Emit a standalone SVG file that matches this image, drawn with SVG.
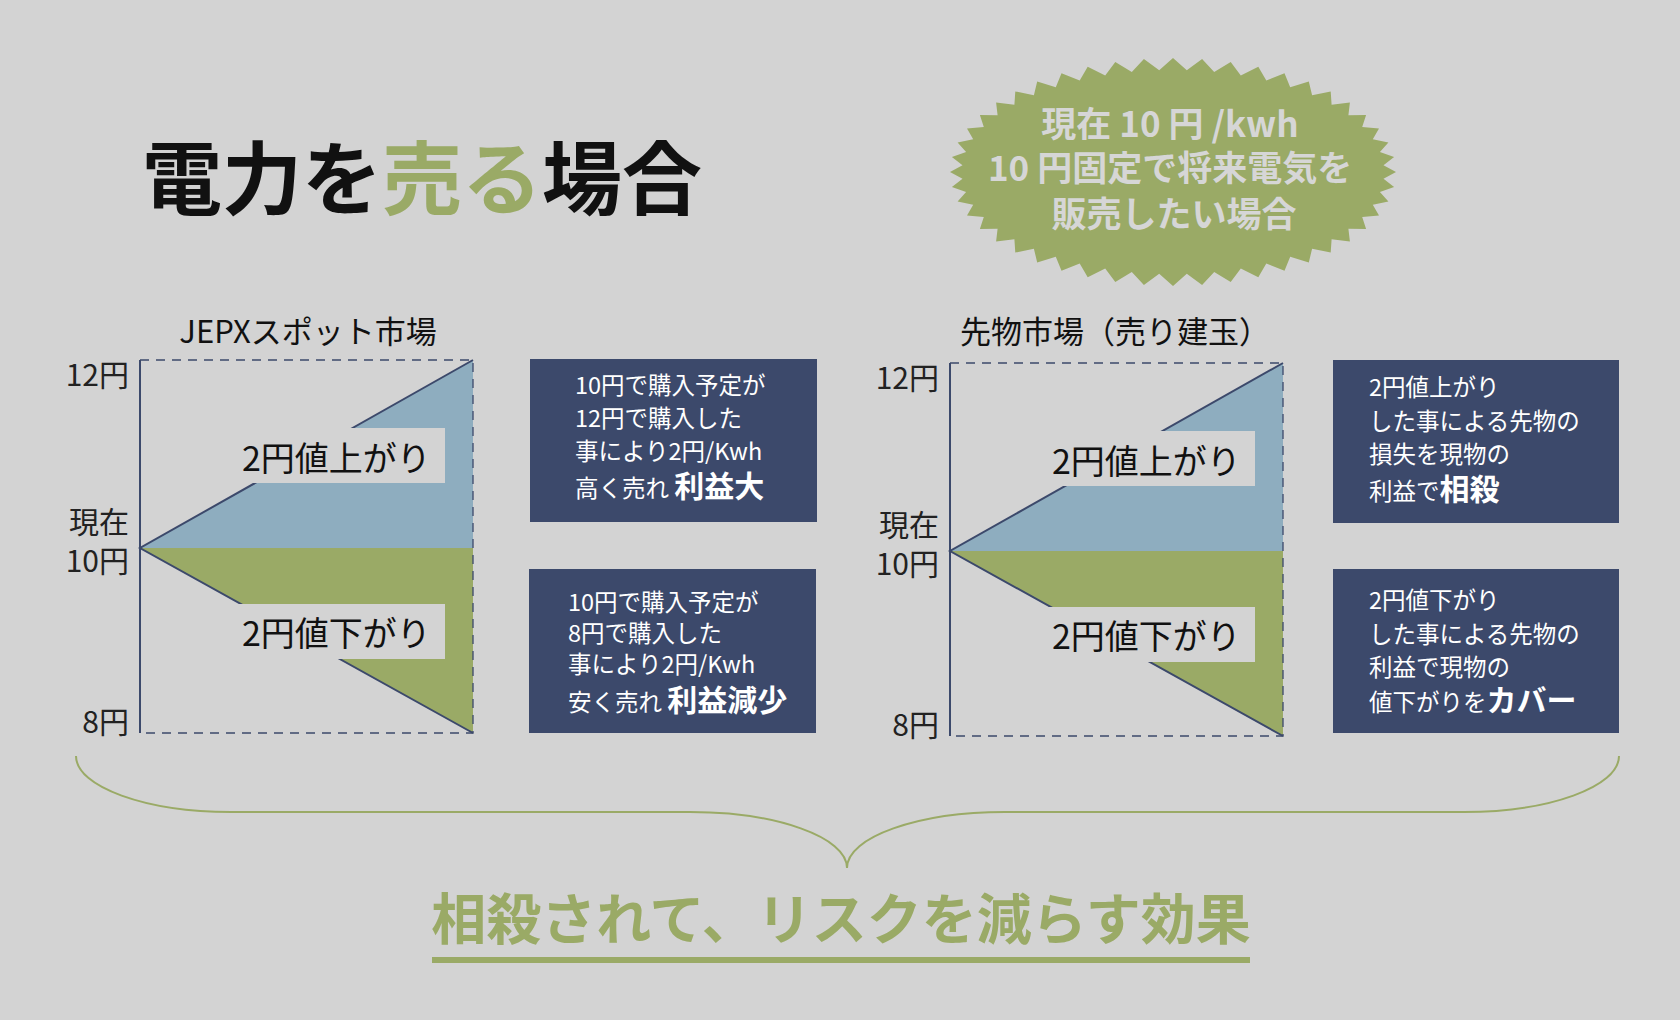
<svg xmlns="http://www.w3.org/2000/svg" width="1680" height="1020" viewBox="0 0 1680 1020">
<style>
.t{font-family:"Noto Sans CJK JP","Noto Sans",sans-serif}
.ax{font-size:30px;fill:#222;text-anchor:end}
.lbl{font-size:34px;fill:#111}
.ttl{font-size:31px;fill:#111;text-anchor:middle}
.bx{fill:#3c496b}
.bt{font-size:23.5px;fill:#fff}
.bb{font-size:30px;font-weight:700}
.dash{stroke:#3c496b;stroke-width:1.3;stroke-dasharray:9 7;fill:none}
.ln{stroke:#3c496b;stroke-width:2;fill:none}
.up{fill:#8eadbf}
.dn{fill:#9aaa66}
.mask{fill:#d3d3d3}
</style>
<rect width="1680" height="1020" fill="#d3d3d3"/>

<g id="title">
<text class="t" x="142" y="208" font-size="80" font-weight="700" fill="#111">電力を<tspan fill="#9aaa66">売る</tspan>場合</text>
</g>

<g id="starburst">
<path transform="translate(1173,172)" fill="#9aaa66" d="M223,0 L210.5,6.7 221.1,14.9 206.9,19.9 215.4,29.5 199.8,32.8 206,43.6 189.2,45.1 193.1,57 175.4,56.7 176.9,69.4 158.6,67.3 157.7,80.6 139.1,76.7 135.8,90.4 117.2,84.8 111.5,98.7 93.3,91.5 85.3,105.3 67.8,96.6 57.7,110.1 41.2,100 29.1,113 13.8,101.8 0,114 -13.8,101.8 -29.1,113 -41.2,100 -57.7,110.1 -67.8,96.6 -85.3,105.3 -93.3,91.5 -111.5,98.7 -117.2,84.8 -135.8,90.4 -139.1,76.7 -157.7,80.6 -158.6,67.3 -176.9,69.4 -175.4,56.7 -193.1,57 -189.2,45.1 -206,43.6 -199.8,32.8 -215.4,29.5 -206.9,19.9 -221.1,14.9 -210.5,6.7 -223,0 -210.5,-6.7 -221.1,-14.9 -206.9,-19.9 -215.4,-29.5 -199.8,-32.8 -206,-43.6 -189.2,-45.1 -193.1,-57 -175.4,-56.7 -176.9,-69.4 -158.6,-67.3 -157.7,-80.6 -139.1,-76.7 -135.8,-90.4 -117.2,-84.8 -111.5,-98.7 -93.3,-91.5 -85.3,-105.3 -67.8,-96.6 -57.7,-110.1 -41.2,-100 -29.1,-113 -13.8,-101.8 0,-114 13.8,-101.8 29.1,-113 41.2,-100 57.7,-110.1 67.8,-96.6 85.3,-105.3 93.3,-91.5 111.5,-98.7 117.2,-84.8 135.8,-90.4 139.1,-76.7 157.7,-80.6 158.6,-67.3 176.9,-69.4 175.4,-56.7 193.1,-57 189.2,-45.1 206,-43.6 199.8,-32.8 215.4,-29.5 206.9,-19.9 221.1,-14.9 210.5,-6.7 Z"/>
<text class="t" font-size="35" font-weight="700" fill="#d6d6d6" text-anchor="middle">
<tspan x="1174" y="137">現在 10 円 /kwh</tspan>
<tspan x="1174" y="181">10 円固定で将来電気を</tspan>
<tspan x="1174" y="227">販売したい場合</tspan>
</text>
</g>

<g id="chart-spot">
<text class="t ttl" x="308" y="343">JEPXスポット市場</text>
<polygon class="up" points="140,548 473,360 473,548"/>
<polygon class="dn" points="140,548 473,733 473,548"/>
<path class="dash" d="M140,360 H473 V733 H140"/>
<line class="ln" x1="140" y1="360" x2="140" y2="733"/>
<path class="ln" d="M473,360 L140,548 L473,733"/>
<rect class="mask" x="222" y="428" width="223" height="55"/>
<rect class="mask" x="222" y="604" width="223" height="55"/>
<text class="t lbl" x="242" y="471">2円値上がり</text>
<text class="t lbl" x="242" y="646">2円値下がり</text>
<text class="t ax" x="129" y="386">12円</text>
<text class="t ax" x="129" y="533">現在</text>
<text class="t ax" x="129" y="572">10円</text>
<text class="t ax" x="129" y="733">8円</text>
</g>

<g id="chart-future">
<text class="t ttl" x="1115" y="343">先物市場（売り建玉）</text>
<g transform="translate(810,3)">
<polygon class="up" points="140,548 473,360 473,548"/>
<polygon class="dn" points="140,548 473,733 473,548"/>
<path class="dash" d="M140,360 H473 V733 H140"/>
<line class="ln" x1="140" y1="360" x2="140" y2="733"/>
<path class="ln" d="M473,360 L140,548 L473,733"/>
<rect class="mask" x="222" y="428" width="223" height="55"/>
<rect class="mask" x="222" y="604" width="223" height="55"/>
<text class="t lbl" x="242" y="471">2円値上がり</text>
<text class="t lbl" x="242" y="646">2円値下がり</text>
<text class="t ax" x="129" y="386">12円</text>
<text class="t ax" x="129" y="533">現在</text>
<text class="t ax" x="129" y="572">10円</text>
<text class="t ax" x="129" y="733">8円</text>
</g>
</g>

<g id="box-spot-up">
<rect class="bx" x="530" y="359" width="287" height="163"/>
<text class="t bt">
<tspan x="575" y="394">10円で購入予定が</tspan>
<tspan x="575" y="427">12円で購入した</tspan>
<tspan x="575" y="460">事により2円/Kwh</tspan>
<tspan x="575" y="497">高く売れ <tspan class="bb">利益大</tspan></tspan>
</text>
</g>

<g id="box-spot-down">
<rect class="bx" x="529" y="569" width="287" height="164"/>
<text class="t bt">
<tspan x="568" y="611">10円で購入予定が</tspan>
<tspan x="568" y="642">8円で購入した</tspan>
<tspan x="568" y="673">事により2円/Kwh</tspan>
<tspan x="568" y="711">安く売れ <tspan class="bb">利益減少</tspan></tspan>
</text>
</g>

<g id="box-future-up">
<rect class="bx" x="1333" y="360" width="286" height="163"/>
<text class="t bt">
<tspan x="1369" y="396">2円値上がり</tspan>
<tspan x="1369" y="430">した事による先物の</tspan>
<tspan x="1369" y="463">損失を現物の</tspan>
<tspan x="1369" y="500">利益で<tspan class="bb">相殺</tspan></tspan>
</text>
</g>

<g id="box-future-down">
<rect class="bx" x="1333" y="569" width="286" height="164"/>
<text class="t bt">
<tspan x="1369" y="609">2円値下がり</tspan>
<tspan x="1369" y="643">した事による先物の</tspan>
<tspan x="1369" y="676">利益で現物の</tspan>
<tspan x="1369" y="711">値下がりを<tspan class="bb">カバー</tspan></tspan>
</text>
</g>

<g id="connectors">
<path d="M76,756 C76,787 146,812 231,812 L690,812 C776,812 847,837 847,868 C847,837 918,812 1005,812 L1464,812 C1549,812 1619,787 1619,756" fill="none" stroke="#9aaa66" stroke-width="2"/>
</g>

<g id="conclusion">
<text class="t" x="841" y="939" font-size="55" font-weight="700" fill="#9aaa66" text-anchor="middle">相殺されて、リスクを減らす効果</text>
<rect x="432" y="957" width="818" height="6" fill="#9aaa66"/>
</g>
</svg>
